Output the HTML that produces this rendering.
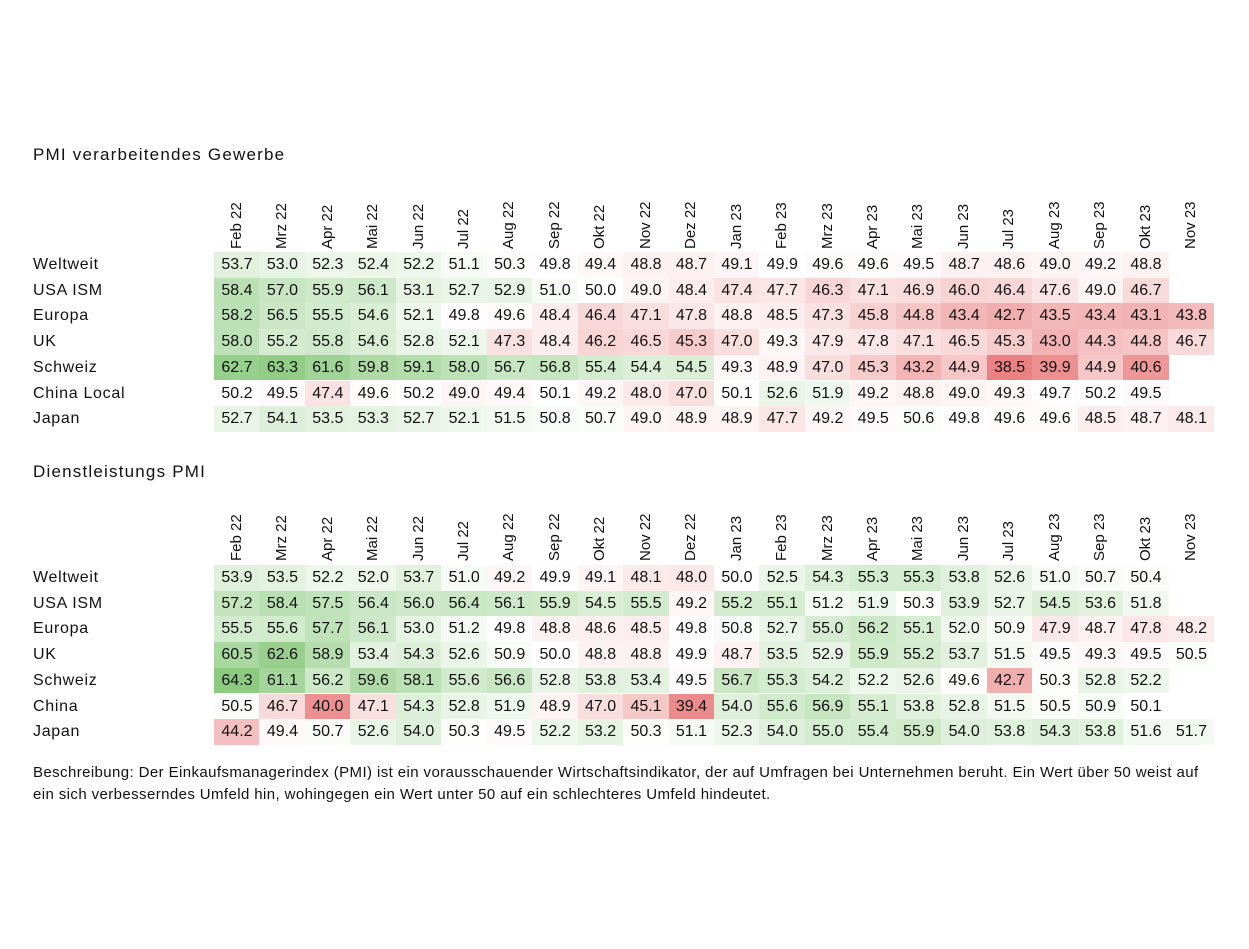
<!DOCTYPE html>
<html><head><meta charset="utf-8">
<style>
body{margin:0;width:1249px;height:949px;background:#fff;position:relative;overflow:hidden;font-family:"Liberation Sans",Arial,sans-serif;color:#111}
.t{position:absolute;white-space:nowrap}
.title{font-size:17px;left:33px;letter-spacing:1.2px}
.rl{font-size:16px;left:33px;letter-spacing:0.7px}
.cell{position:absolute;font-size:16px;text-align:center;line-height:25.7px;height:25.7px}
.col{position:absolute;font-size:15px;transform-origin:0 0;transform:rotate(-90deg);white-space:nowrap}
.desc{position:absolute;font-size:15px;letter-spacing:0.4px;left:33px;line-height:22px;top:762px;white-space:nowrap}
</style></head><body>
<div class="t title" style="top:145px">PMI verarbeitendes Gewerbe</div>
<div class="t title" style="top:462px">Dienstleistungs PMI</div>
<div class="desc">Beschreibung: Der Einkaufsmanagerindex (PMI) ist ein vorausschauender Wirtschaftsindikator, der auf Umfragen bei Unternehmen beruht. Ein Wert über 50 weist auf<br>ein sich verbesserndes Umfeld hin, wohingegen ein Wert unter 50 auf ein schlechteres Umfeld hindeutet.</div>
<script>
const months=["Feb 22","Mrz 22","Apr 22","Mai 22","Jun 22","Jul 22","Aug 22","Sep 22","Okt 22","Nov 22","Dez 22","Jan 23","Feb 23","Mrz 23","Apr 23","Mai 23","Jun 23","Jul 23","Aug 23","Sep 23","Okt 23","Nov 23"];
const mfgRows=["Weltweit","USA ISM","Europa","UK","Schweiz","China Local","Japan"];
const mfgWeltweit=[53.7,53.0,52.3,52.4,52.2,51.1,50.3,49.8,49.4,48.8,48.7,49.1,49.9,49.6,49.6,49.5,48.7,48.6,49.0,49.2,48.8,null];
const mfgUSA=[58.4,57.0,55.9,56.1,53.1,52.7,52.9,51.0,50.0,49.0,48.4,47.4,47.7,46.3,47.1,46.9,46.0,46.4,47.6,49.0,46.7,null];
const mfgEuropa=[58.2,56.5,55.5,54.6,52.1,49.8,49.6,48.4,46.4,47.1,47.8,48.8,48.5,47.3,45.8,44.8,43.4,42.7,43.5,43.4,43.1,43.8];
const mfgUK=[58.0,55.2,55.8,54.6,52.8,52.1,47.3,48.4,46.2,46.5,45.3,47.0,49.3,47.9,47.8,47.1,46.5,45.3,43.0,44.3,44.8,46.7];
const mfgSchweiz=[62.7,63.3,61.6,59.8,59.1,58.0,56.7,56.8,55.4,54.4,54.5,49.3,48.9,47.0,45.3,43.2,44.9,38.5,39.9,44.9,40.6,null];
const mfgChina=[50.2,49.5,47.4,49.6,50.2,49.0,49.4,50.1,49.2,48.0,47.0,50.1,52.6,51.9,49.2,48.8,49.0,49.3,49.7,50.2,49.5,null];
const mfgJapan=[52.7,54.1,53.5,53.3,52.7,52.1,51.5,50.8,50.7,49.0,48.9,48.9,47.7,49.2,49.5,50.6,49.8,49.6,49.6,48.5,48.7,48.1];
const srvRows=["Weltweit","USA ISM","Europa","UK","Schweiz","China","Japan"];
const srvWeltweit=[53.9,53.5,52.2,52.0,53.7,51.0,49.2,49.9,49.1,48.1,48.0,50.0,52.5,54.3,55.3,55.3,53.8,52.6,51.0,50.7,50.4,null];
const srvUSA=[57.2,58.4,57.5,56.4,56.0,56.4,56.1,55.9,54.5,55.5,49.2,55.2,55.1,51.2,51.9,50.3,53.9,52.7,54.5,53.6,51.8,null];
const srvEuropa=[55.5,55.6,57.7,56.1,53.0,51.2,49.8,48.8,48.6,48.5,49.8,50.8,52.7,55.0,56.2,55.1,52.0,50.9,47.9,48.7,47.8,48.2];
const srvUK=[60.5,62.6,58.9,53.4,54.3,52.6,50.9,50.0,48.8,48.8,49.9,48.7,53.5,52.9,55.9,55.2,53.7,51.5,49.5,49.3,49.5,50.5];
const srvSchweiz=[64.3,61.1,56.2,59.6,58.1,55.6,56.6,52.8,53.8,53.4,49.5,56.7,55.3,54.2,52.2,52.6,49.6,42.7,50.3,52.8,52.2,null];
const srvChina=[50.5,46.7,40.0,47.1,54.3,52.8,51.9,48.9,47.0,45.1,39.4,54.0,55.6,56.9,55.1,53.8,52.8,51.5,50.5,50.9,50.1,null];
const srvJapan=[44.2,49.4,50.7,52.6,54.0,50.3,49.5,52.2,53.2,50.3,51.1,52.3,54.0,55.0,55.4,55.9,54.0,53.8,54.3,53.8,51.6,51.7];
const mfgData=[mfgWeltweit,mfgUSA,mfgEuropa,mfgUK,mfgSchweiz,mfgChina,mfgJapan];
const srvData=[srvWeltweit,srvUSA,srvEuropa,srvUK,srvSchweiz,srvChina,srvJapan];

const X0=214,CW=45.45,RH=25.7;
function colX(i){return X0+i*CW;}
function color(v){
  const d=v-50;const t=Math.min(1,Math.abs(d)/14);
  const c=d>=0?[140,202,128]:[229,100,102];
  const m=a=>Math.round(255+(a-255)*t);
  return `rgb(${m(c[0])},${m(c[1])},${m(c[2])})`;
}
function table(rows,data,labelBottom,rowTop){
  months.forEach((m,i)=>{
    const el=document.createElement('div');
    el.className='col';el.textContent=m;
    
    
    el.style.left=(colX(i)+CW/2-9)+'px';el.style.top=labelBottom+'px';
    document.body.appendChild(el);
  });
  rows.forEach((r,ri)=>{
    const y=rowTop+ri*RH;
    const l=document.createElement('div');
    l.className='t rl';l.textContent=r;l.style.top=(y+4)+'px';
    
    
    document.body.appendChild(l);
    data[ri].forEach((v,ci)=>{
      if(v===null)return;
      const c=document.createElement('div');
      c.className='cell';c.textContent=v.toFixed(1);
      
      
      c.style.left=colX(ci)+'px';c.style.top=y+'px';c.style.width=(CW+0.5)+'px';
      c.style.background=color(v);
      document.body.appendChild(c);
    });
  });
}
table(mfgRows,mfgData,249,252);
table(srvRows,srvData,561,565);
</script>
</body></html>
